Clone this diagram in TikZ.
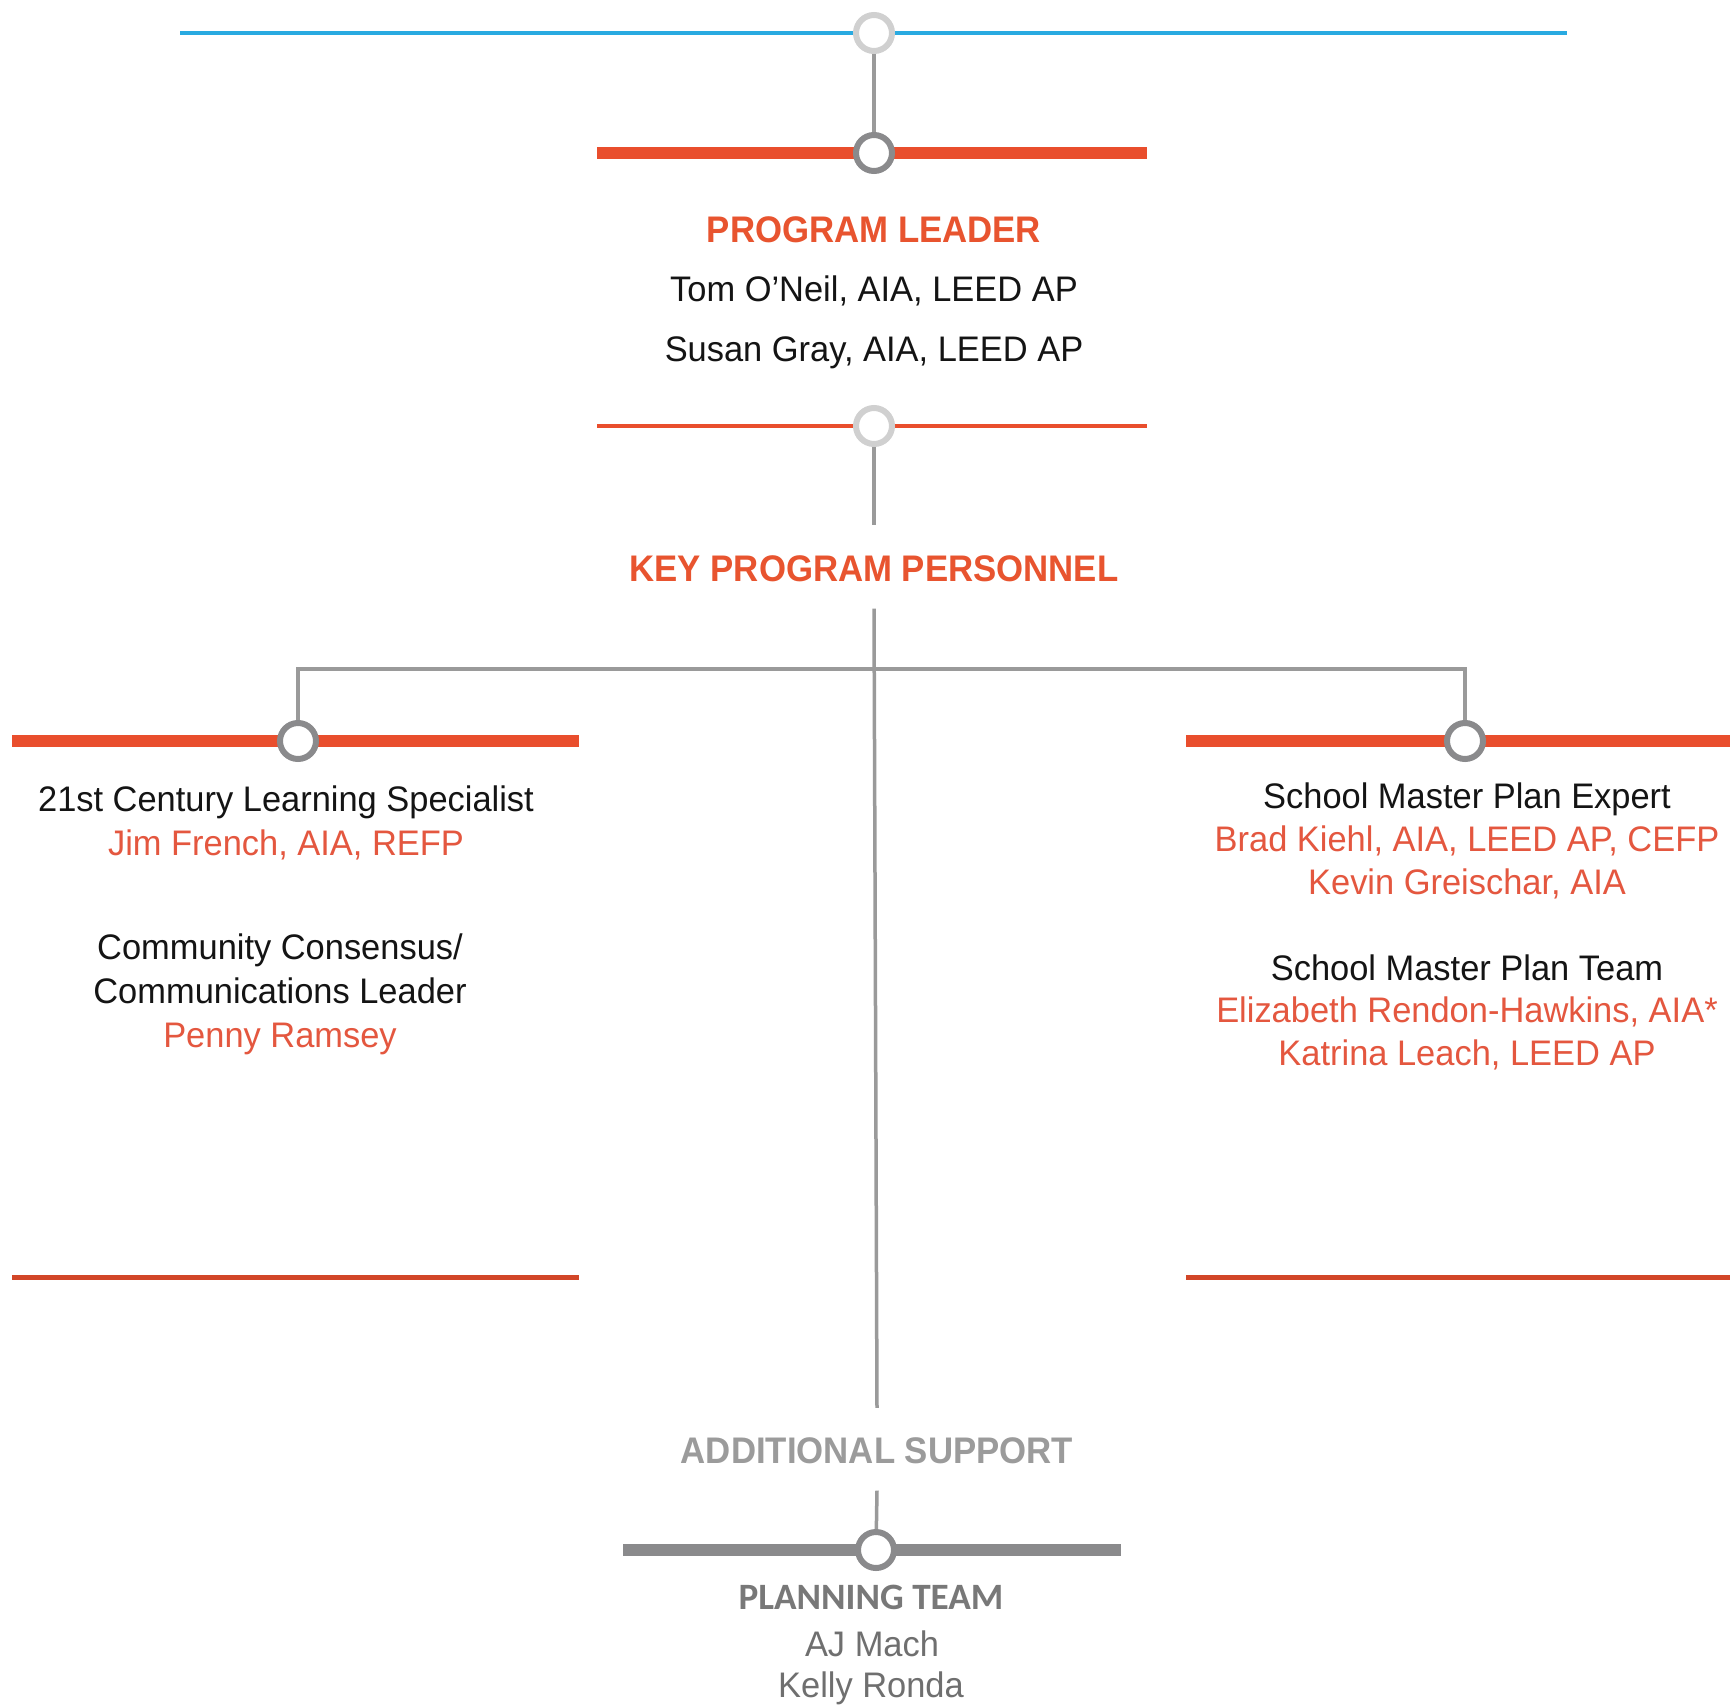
\documentclass[tikz,border=0pt]{standalone}
\usepackage{fontspec}
\setmainfont{Liberation Sans}
\newfontfamily\regf[FakeStretch=0.97]{Liberation Sans}
\newfontfamily\hdf[FakeStretch=0.94]{Liberation Sans}
\newfontfamily\ptf{Carlito}
\definecolor{obar}{HTML}{E94E2D}
\definecolor{ohead}{HTML}{E8542F}
\definecolor{oname}{HTML}{E4573F}
\definecolor{bline}{HTML}{29AAE1}
\definecolor{gconn}{HTML}{9A9A9A}
\definecolor{gdark}{HTML}{8A8A8C}
\definecolor{glight}{HTML}{D0D0D0}
\definecolor{txtk}{HTML}{141414}
\definecolor{gadd}{HTML}{9B9B9B}
\definecolor{gpt}{HTML}{787878}
\definecolor{gnm}{HTML}{6F6F6F}
\tikzset{
  rg/.style={inner sep=0pt, anchor=base, font=\regf\fontsize{35.5}{40}\selectfont, text=txtk},
  nm/.style={rg, text=oname},
  hd/.style={inner sep=0pt, anchor=base, font=\hdf\bfseries\fontsize{37}{42}\selectfont, text=ohead},
  thickbar/.style={line width=12pt, draw=obar},
  thinbar/.style={line width=4pt, draw=obar},
  gline/.style={line width=3.5pt, draw=gconn},
  ring/.style={circle, draw=gdark, fill=white, line width=6pt, minimum size=36pt, inner sep=0pt},
  lring/.style={ring, draw=glight}
}
\begin{document}
\begin{tikzpicture}[x=1pt,y=-1pt]
\useasboundingbox[fill=white] (0,0) rectangle (1730,1705);
% bars
\coordinate (blL) at (180,33); \coordinate (blR) at (1567,33);
\draw[line width=4.5pt, draw=bline] (blL) -- (blR);
\coordinate (o1L) at (597,153); \coordinate (o1R) at (1147,153);
\draw[thickbar] (o1L) -- (o1R);
\coordinate (o2L) at (597,426); \coordinate (o2R) at (1147,426);
\draw[thinbar] (o2L) -- (o2R);
\coordinate (lbL) at (12,741); \coordinate (lbR) at (579,741);
\draw[thickbar] (lbL) -- (lbR);
\coordinate (rbL) at (1186,741); \coordinate (rbR) at (1730,741);
\draw[thickbar] (rbL) -- (rbR);
\coordinate (ltL) at (12,1277); \coordinate (ltR) at (579,1277);
\draw[line width=5pt, draw=obar!90!black] (ltL) -- (ltR);
\coordinate (rtL) at (1186,1277); \coordinate (rtR) at (1730,1277);
\draw[line width=5pt, draw=obar!90!black] (rtL) -- (rtR);
\coordinate (gbL) at (623,1550); \coordinate (gbR) at (1121,1550);
\draw[line width=12pt, draw=gdark] (gbL) -- (gbR);
% circles
\node[lring] (c1) at (874,33) {};
\node[ring] (c2) at (874,153) {};
\node[lring] (c3) at (874,426) {};
\node[ring] (lc) at (298,741) {};
\node[ring] (rc) at (1465,741) {};
\node[ring] (bc) at (876,1550) {};
% texts
\node[hd] (pl) at (874,242) {PROGRAM LEADER};
\node[rg] (tom) at (874,301) {Tom O’Neil, AIA, LEED AP};
\node[rg] (sus) at (874,361) {Susan Gray, AIA, LEED AP};
\node[hd] (key) at (874,581) {KEY PROGRAM PERSONNEL};
\node[rg] (l1) at (286,811) {21st Century Learning Specialist};
\node[nm] (l2) at (286,855) {Jim French, AIA, REFP};
\node[rg] (l3) at (280,959) {Community Consensus/};
\node[rg] (l4) at (280,1003) {Communications Leader};
\node[nm] (l5) at (280,1047) {Penny Ramsey};
\node[rg] (r1) at (1467,808) {School Master Plan Expert};
\node[nm] (r2) at (1467,851) {Brad Kiehl, AIA, LEED AP, CEFP};
\node[nm] (r3) at (1467,894) {Kevin Greischar, AIA};
\node[rg] (r4) at (1467,980) {School Master Plan Team};
\node[nm] (r5) at (1467,1022) {Elizabeth Rendon-Hawkins, AIA*};
\node[nm] (r6) at (1467,1065) {Katrina Leach, LEED AP};
\node[hd, text=gadd] (add) at (877,1463) {ADDITIONAL SUPPORT};
\node[inner sep=0pt, anchor=base, font=\ptf\bfseries\fontsize{37.2}{42}\selectfont, text=gpt] (pt) at (871,1609) {PLANNING TEAM};
\node[rg, text=gnm] (aj) at (872,1656) {AJ Mach};
\node[rg, text=gnm] (kr) at (871,1697) {Kelly Ronda};
% connectors
\draw[gline] (c1) -- (c2);
\coordinate (k1) at (874,525);
\draw[gline] (c3) -- (k1);
\draw[gline] ([yshift=-27pt]key.south) -- ([yshift=29pt]add.north);
\coordinate (br) at (874,669);
\draw[gline] (br) -| (lc);
\draw[gline] (br) -| (rc);
\draw[gline] ([yshift=-27pt]add.south) -- (bc);
\end{tikzpicture}
\end{document}
